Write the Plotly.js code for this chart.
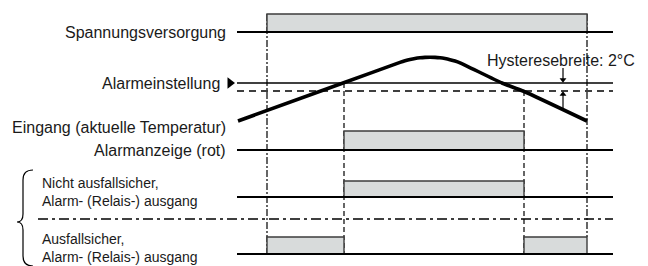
<!DOCTYPE html>
<html>
<head>
<meta charset="utf-8">
<script src="https://cdn.plot.ly/plotly-3.0.1.min.js"></script>
<style>html,body{margin:0;padding:0;background:#fff;}#chart{width:648px;height:266px;}</style>
</head>
<body>
<div id="chart"></div>
<script>
// ---- data ----
const signalNames = ['Spannungsversorgung', 'Alarmanzeige (rot)', 'Nicht ausfallsicher,<br>Alarm- (Relais-) ausgang', 'Ausfallsicher,<br>Alarm- (Relais-) ausgang'];
const tStart = 237, tEnd = 613;
const tPowerOn = 267, tPowerOff = 587;
const tAlarmOn = 344, tAlarmOff = 524;
const powerOnIntervals = [[267, 587]];
const alarmLampIntervals = [[344, 524]];
const nonFailsafeIntervals = [[344, 524]];
const failsafeIntervals = [[267, 344], [524, 587]];
const alarmSetpoint = 80;      // °C
const hysteresis = 2;          // °C
const tempTime  = [238, 343, 400, 405, 410, 415, 420, 425, 430, 435, 440, 445, 450, 455, 460, 502, 523, 587];
const tempValue = [70.5, 80, 85.15, 85.55, 85.88, 86.13, 86.3, 86.4, 86.43, 86.4, 86.3, 86.1, 85.83, 85.5, 85.05, 80, 78, 70.5];
const inputLabel = 'Eingang (aktuelle Temperatur)';
const setpointLabel = 'Alarmeinstellung';
const hystLabel = 'Hysteresebreite: 2°C';

// ---- layout helpers ----
const FONT = 'Liberation Sans, Arial, Helvetica, sans-serif';
const lanes = [
  {base: 32, top: 14, intervals: powerOnIntervals},
  {base: 150, top: 131, intervals: alarmLampIntervals},
  {base: 197, top: 181, intervals: nonFailsafeIntervals},
  {base: 254, top: 237, intervals: failsafeIntervals}
];
const traces = [];
function line(x, y, opts, yaxis) {
  traces.push(Object.assign({type: 'scatter', mode: 'lines', x: x, y: y, hoverinfo: 'skip', showlegend: false,
    yaxis: yaxis || 'y'}, opts));
}
// vertical timing lines
line([tPowerOn, tPowerOn], [14, 254], {line: {color: '#000', width: 1.2, dash: '7px,2px,2px,2px'}});
line([tPowerOff, tPowerOff], [14, 237], {line: {color: '#000', width: 1.2, dash: '7px,2px,2px,2px'}});
line([tAlarmOn, tAlarmOn], [83, 254], {line: {color: '#000', width: 1.2, dash: '5px,3px'}});
line([tAlarmOff, tAlarmOff], [91, 254], {line: {color: '#000', width: 1.2, dash: '5px,3px'}});
// bars
lanes.forEach(l => {
  l.intervals.forEach(iv => {
    line([iv[0], iv[0], iv[1], iv[1], iv[0]], [l.base, l.top, l.top, l.base, l.base],
      {fill: 'toself', fillcolor: '#d8dbdb', line: {color: '#3c3c3c', width: 1.4}});
  });
});
// baselines
lanes.forEach(l => line([tStart, tEnd], [l.base, l.base], {line: {color: '#000', width: 1.8}}));
// separator dash-dot
line([38, tEnd], [219, 219], {line: {color: '#000', width: 1.4, dash: '10px,4px,3px,4px'}});
// setpoint and hysteresis lines (temperature axis)
line([tStart, tEnd], [alarmSetpoint, alarmSetpoint], {line: {color: '#000', width: 1.4}}, 'y2');
line([tStart, tEnd], [alarmSetpoint - hysteresis, alarmSetpoint - hysteresis], {line: {color: '#000', width: 1.4, dash: '7px,5px'}}, 'y2');
// setpoint marker
traces.push({type: 'scatter', mode: 'markers', x: [230], y: [alarmSetpoint], yaxis: 'y2', hoverinfo: 'skip', showlegend: false,
  marker: {symbol: 'triangle-right', size: 10, color: '#000'}});
// hysteresis arrows
line([563, 563], [alarmSetpoint + 3.75, alarmSetpoint + 0.5], {line: {color: '#000', width: 1.2}}, 'y2');
line([563, 563], [alarmSetpoint - hysteresis - 4.25, alarmSetpoint - hysteresis - 0.5], {line: {color: '#000', width: 1.2}}, 'y2');
traces.push({type: 'scatter', mode: 'markers', x: [563, 563], y: [alarmSetpoint + 0.8, alarmSetpoint - hysteresis - 0.8],
  yaxis: 'y2', hoverinfo: 'skip', showlegend: false,
  marker: {symbol: ['triangle-down', 'triangle-up'], size: 6, color: '#000'}});
// temperature curve
line(tempTime, tempValue, {line: {color: '#000', width: 3.6, shape: 'spline', smoothing: 0.5}}, 'y2');

const annotations = [];
function label(text, x, y, anchor, size) {
  annotations.push({text: text, x: x, y: y, xref: 'x', yref: 'y', xanchor: anchor, yanchor: 'middle',
    showarrow: false, align: anchor, font: {family: FONT, size: size, color: '#1a1a1a'}});
}
label(signalNames[0], 228, 32, 'right', 16);
label(setpointLabel, 222, 83, 'right', 16);
label(inputLabel, 228, 127, 'right', 16);
label(signalNames[1], 228, 150, 'right', 16);
label(signalNames[2], 40, 192, 'left', 14);
label(signalNames[3], 40, 248, 'left', 14);
label(hystLabel, 637, 60, 'right', 16);

const layout = {
  width: 648, height: 266,
  margin: {l: 0, r: 0, t: 0, b: 0},
  paper_bgcolor: '#fff', plot_bgcolor: '#fff',
  xaxis: {range: [0, 648], visible: false, fixedrange: true},
  yaxis: {range: [266, 0], visible: false, fixedrange: true},
  yaxis2: {range: [34.25, 100.75], overlaying: 'y', visible: false, fixedrange: true},
  annotations: annotations,
  shapes: [{type: 'path', xref: 'x', yref: 'y',
    path: 'M 33,170 Q 23,170 23,180 L 23,214 Q 23,222 17,222 Q 23,222 23,230 L 23,256 Q 23,266 33,266',
    line: {color: '#000', width: 1.2}}]
};
Plotly.newPlot('chart', traces, layout, {staticPlot: true, displayModeBar: false});
</script>
</body>
</html>
